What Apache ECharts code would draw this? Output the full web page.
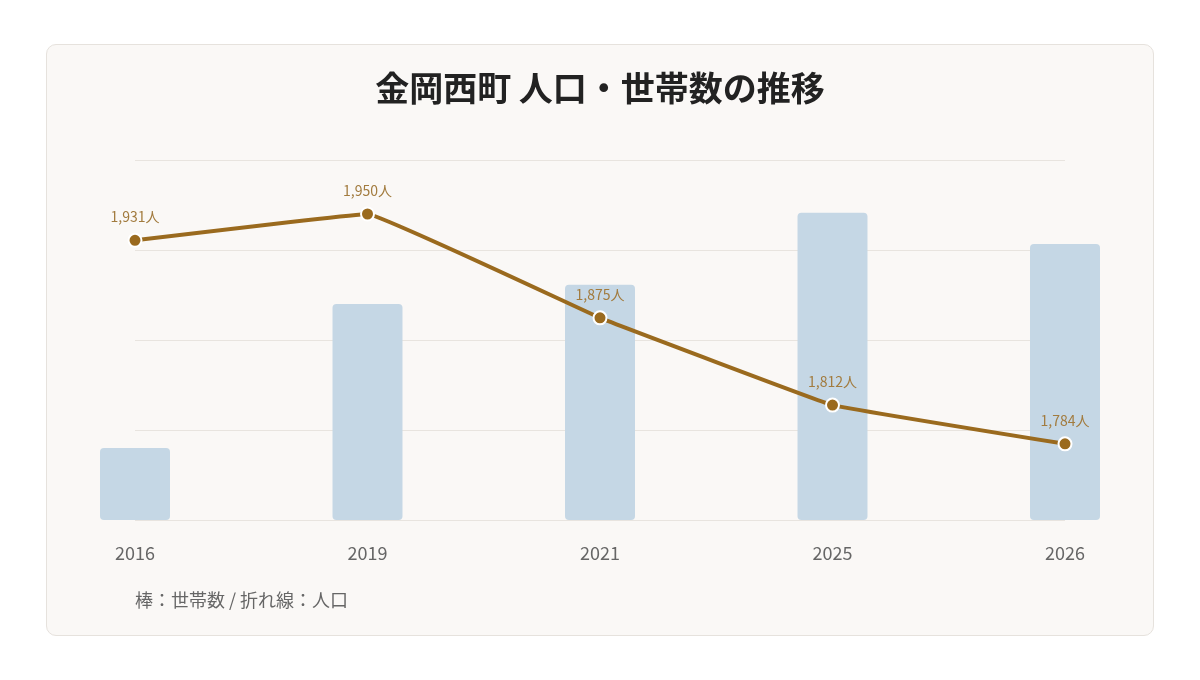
<!DOCTYPE html>
<html>
<head>
<meta charset="utf-8">
<script src="https://cdn.jsdelivr.net/npm/echarts@6/dist/echarts.min.js"></script>
<style>
  html, body {margin:0; padding:0; background:#fff;}
  #card {position:absolute; left:46px; top:44px; width:1106px; height:590px;
         background:#faf8f6; border:1px solid #e6e2dd; border-radius:10px;}
  #chart {position:absolute; left:0; top:0; width:1200px; height:680px;}
</style>
</head>
<body>
<div id="card"></div>
<div id="chart"></div>
<script>
// 年次・世帯数(棒)・人口(折れ線)
const years = ["2016", "2019", "2021", "2025", "2026"];
const households = [780, 840, 848, 878, 865];
const population = [1931, 1950, 1875, 1812, 1784];

const fuente = '"Noto Sans CJK JP", "Noto Sans", sans-serif';
const chart = echarts.init(document.getElementById("chart"));
let options = {
    backgroundColor: 'transparent',
    textStyle: {fontFamily: fuente},
    title: [{
        text: "金岡西町 人口・世帯数の推移",
        left: 'center', top: 66,
        textStyle: {fontSize: 34, fontWeight: 'bold', color: '#222', fontFamily: fuente}
    }, {
        text: "棒：世帯数 / 折れ線：人口",
        left: 130, top: 586,
        textStyle: {fontSize: 18, fontWeight: 'normal', color: '#666', fontFamily: fuente}
    }],
    grid: {left: 135, right: 135, top: 160, bottom: 160},
    xAxis: {
        type: 'category',
        data: years,
        boundaryGap: false,
        axisLine: {show: false},
        axisTick: {show: false},
        axisLabel: {color: '#666', fontSize: 18, margin: 24}
    },
    yAxis: [{
        type: 'value',
        min: 750, max: 900, interval: 37.5,
        axisLabel: {show: false},
        axisLine: {show: false},
        axisTick: {show: false},
        splitLine: {lineStyle: {color: '#e8e4df', width: 1}}
    }, {
        type: 'value',
        min: 1729, max: 1989,
        axisLabel: {show: false},
        axisLine: {show: false},
        axisTick: {show: false},
        splitLine: {show: false}
    }],
    series: [{
        name: "世帯数",
        type: 'bar',
        data: households,
        barWidth: 70,
        itemStyle: {color: '#c5d7e5', borderRadius: 4}
    }, {
        name: "人口",
        type: 'line',
        yAxisIndex: 1,
        data: population,
        smooth: 0.05,
        symbol: 'circle',
        symbolSize: 13,
        lineStyle: {color: '#9a6a1e', width: 4},
        itemStyle: {color: '#9a6a1e', borderColor: '#fff', borderWidth: 2},
        label: {
            show: true, position: 'top', distance: 9,
            color: '#a27b3e', fontSize: 14,
            formatter: p => p.value.toLocaleString('en-US') + "人"
        },
        z: 5
    }]
};
chart.setOption(options);
</script>
</body>
</html>
